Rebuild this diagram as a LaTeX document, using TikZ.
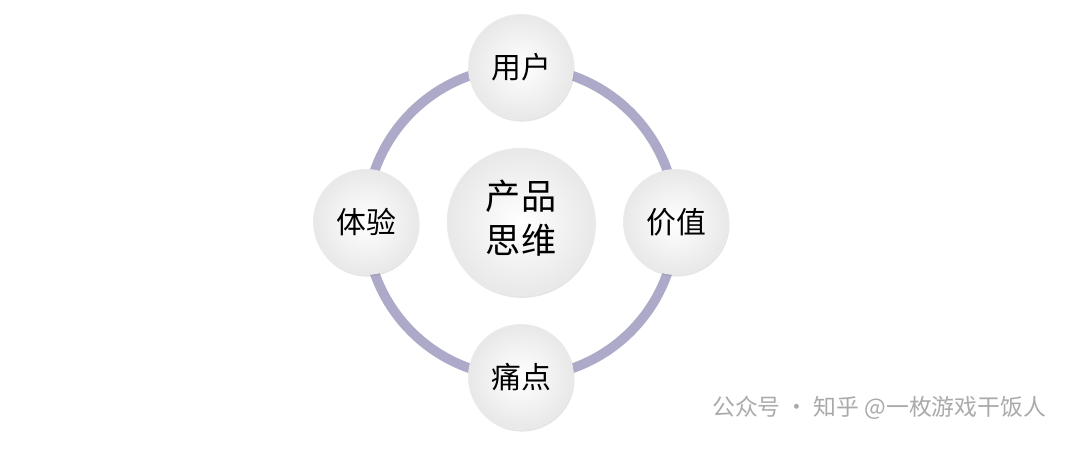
\documentclass[tikz,border=0pt]{standalone}
\usepackage{fontspec}
\newfontfamily\cjk{Noto Sans CJK SC}
\usetikzlibrary{shadows}
\definecolor{ringc}{RGB}{172,170,200}
\definecolor{wmark}{RGB}{170,170,170}
\tikzset{
	ball/.style={circle, draw=black!8, line width=0.5pt, inner sep=0pt,
		inner color=white, outer color=black!9,
		drop shadow={shadow xshift=0.6pt, shadow yshift=-1.2pt, opacity=0.2},
		font=\cjk\fontsize{17}{22}\selectfont},
	small/.style={ball, minimum size=2.1cm},
	big/.style={ball, minimum size=2.95cm, font=\cjk\fontsize{20}{27}\selectfont}
}
\begin{document}
\begin{tikzpicture}[x=0.02cm,y=-0.02cm]
	\useasboundingbox [fill=white] (0,0) rectangle (1080,453);
	% ring
	\draw [ringc, line width=5.5pt] (521,222) circle (155);
	\node [big] (core) at (521,222) {\begin{tabular}{@{}c@{}}产品\\[-2pt]思维\end{tabular}};
	\node [small] (user) at (521,67) {用户};
	\node [small] (value) at (676,222) {价值};
	\node [small] (pain) at (521,377) {痛点};
	\node [small] (exp) at (366,222) {体验};
	% watermark
	\node [text=wmark, font=\cjk\fontsize{13}{15}\selectfont, anchor=west] (mark) at (706,408) {公众号 · 知乎 @一枚游戏干饭人};
\end{tikzpicture}
\end{document}
